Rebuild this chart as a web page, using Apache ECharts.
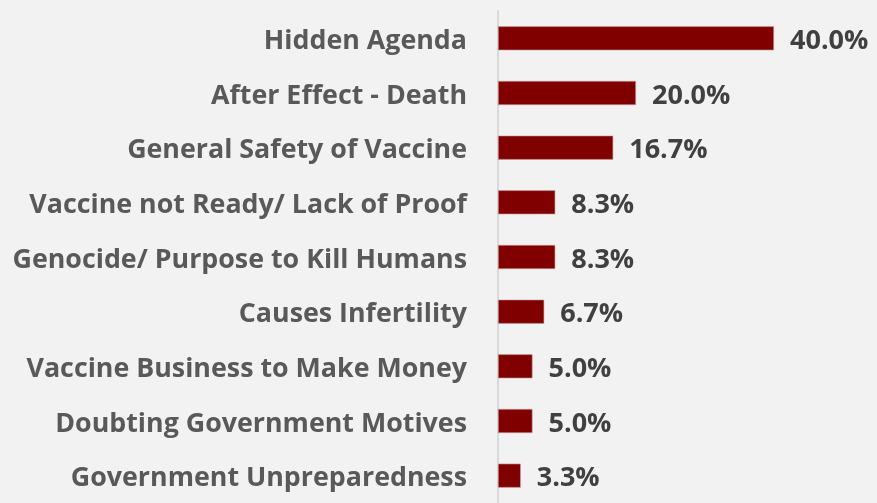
<!DOCTYPE html>
<html>
<head>
<meta charset="utf-8">
<script src="https://cdn.jsdelivr.net/npm/echarts@6/dist/echarts.min.js"></script>
<style>
html, body { margin: 0; padding: 0; background: #f2f2f2; }
#chart { width: 877px; height: 503px; }
</style>
</head>
<body>
<div id="chart"></div>
<script>
var categories = [
    'Hidden Agenda',
    'After Effect - Death',
    'General Safety of Vaccine',
    'Vaccine not Ready/ Lack of Proof',
    'Genocide/ Purpose to Kill Humans',
    'Causes Infertility',
    'Vaccine Business to Make Money',
    'Doubting Government Motives',
    'Government Unpreparedness'
];
var values = [40.0, 20.0, 16.7, 8.3, 8.3, 6.7, 5.0, 5.0, 3.3];

var myChart = echarts.init(document.getElementById('chart'));

var option = {
    backgroundColor: '#f2f2f2',
    textStyle: { fontFamily: 'Open Sans' },
    grid: {
        left: 498,
        top: 11,
        width: 345,
        height: 495
    },
    xAxis: {
        type: 'value',
        min: 0,
        max: 50,
        show: false
    },
    yAxis: {
        type: 'category',
        inverse: true,
        data: categories,
        axisLine: { lineStyle: { color: '#d9d9d9', width: 2 } },
        axisTick: { length: 8, lineStyle: { color: '#d9d9d9', width: 2 } },
        axisLabel: {
            margin: 31,
            formatter: function (v) { return '{t|' + v + '}'; },
            rich: {
                t: {
                    color: '#595959',
                    fontSize: 26.8,
                    fontWeight: 'bold',
                    fontFamily: 'Open Sans',
                    padding: [6, 0, 0, 0]
                }
            }
        }
    },
    series: [{
        type: 'bar',
        data: values,
        barCategoryGap: '56%',
        itemStyle: {
            color: '#800000',
            borderColor: '#c9a0a0',
            borderWidth: 0.6
        },
        label: {
            show: true,
            position: 'right',
            distance: 16,
            offset: [0, 3],
            color: '#404040',
            fontSize: 27,
            fontWeight: 'bold',
            fontFamily: 'Open Sans',
            formatter: function (p) { return p.value.toFixed(1) + '%'; }
        }
    }]
};

myChart.setOption(option);
</script>
</body>
</html>
